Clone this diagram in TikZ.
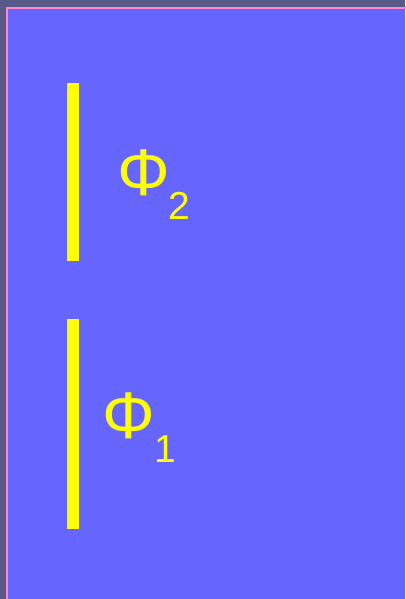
\documentclass[tikz,border=0pt]{standalone}
\usepackage{fontspec}
\setmainfont{Liberation Sans}
\definecolor{outerbg}{RGB}{90,90,136}
\definecolor{panel}{RGB}{102,102,255}
\definecolor{rim}{RGB}{255,136,204}
\definecolor{bar}{RGB}{255,255,0}
\begin{document}
\begin{tikzpicture}[x=1pt,y=-1pt,
  sym/.style={text=bar,inner sep=0pt,anchor=base west,font=\fontsize{66}{66}\selectfont},
  sub/.style={text=bar,inner sep=0pt,anchor=base west,font=\fontsize{39}{39}\selectfont}]
\useasboundingbox (0,0) rectangle (405,599);
\fill[outerbg] (0,0) rectangle (405,599);
\fill[panel] (7,8) rectangle (405,599);
\draw[rim,line width=2pt] (7,605) -- (7,8) -- (410,8);
\fill[bar] (67,83) rectangle (79,261);
\fill[bar] (67,319) rectangle (79,529);
\node[sym] (phi2) at (117,195) {Φ};
\node[sub] (sub2) at (168,219) {2};
\node[sym] (phi1) at (102,438) {Φ};
\node[sub] (sub1) at (154,462) {1};
\end{tikzpicture}
\end{document}
